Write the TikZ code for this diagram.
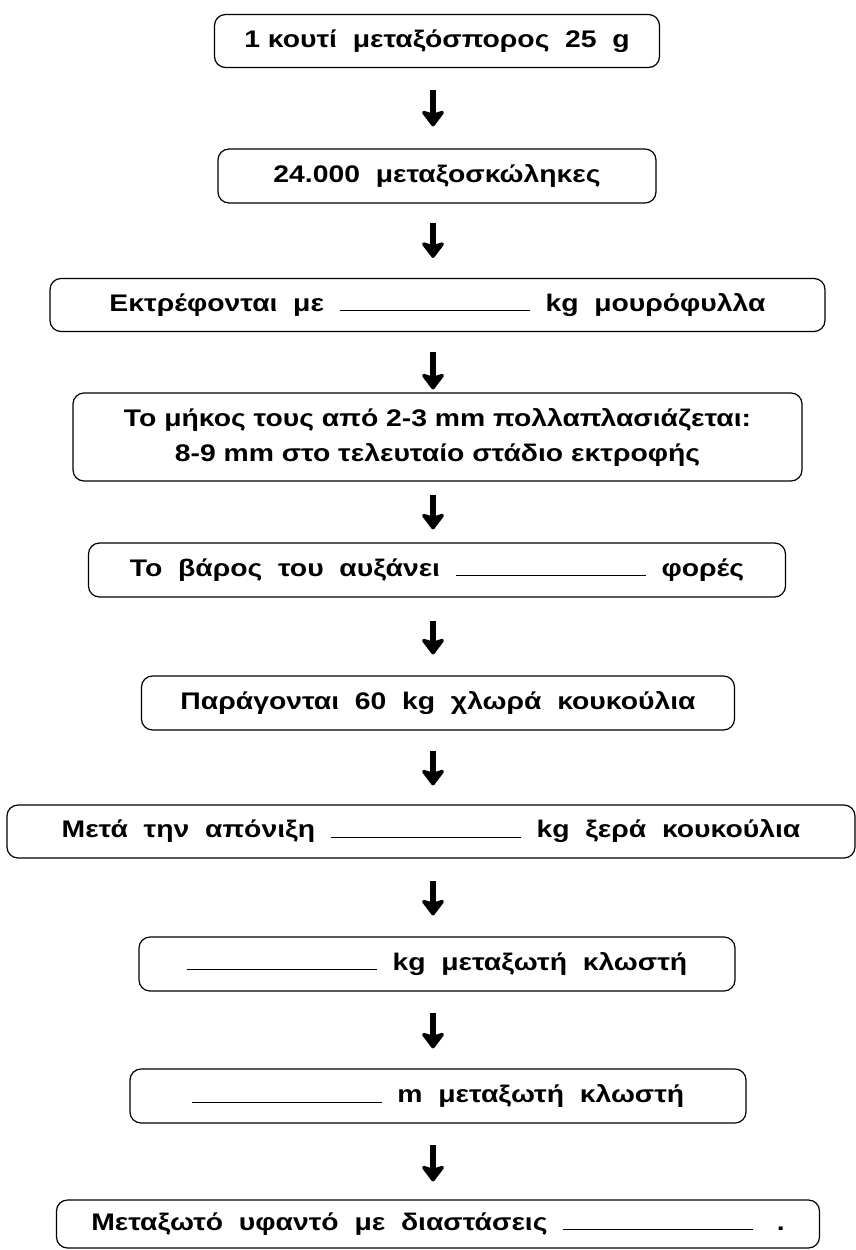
\documentclass[tikz,border=0pt]{standalone}
\usepackage{fontspec}
\setmainfont{Liberation Sans}[FakeStretch=1.18]
\usetikzlibrary{arrows.meta}
\newcommand{\blank}{\rule[0pt]{190pt}{1pt}}
\begin{document}
\begin{tikzpicture}[x=1pt,y=-1pt,
  box/.style={draw=black, line width=1.2pt, rounded corners=11pt, inner sep=0pt,
    align=center, font=\fontsize{24}{35}\selectfont\bfseries},
  flow/.style={line width=6pt, -{Stealth[width=27pt,length=18pt,inset=4pt,round]}}]
\useasboundingbox (0,0) rectangle (856,1250);
\coordinate (ax) at (433,0);
\node[box, minimum width=445pt, minimum height=53pt] (b1) at (437,41) {1 κουτί \ μεταξόσπορος \ 25 \ g};
\node[box, minimum width=438pt, minimum height=54pt] (b2) at (437,176) {24.000 \ μεταξοσκώληκες};
\node[box, minimum width=775pt, minimum height=53pt] (b3) at (437.5,305) {Εκτρέφονται \ με \ \blank\ \ kg \ μουρόφυλλα};
\node[box, minimum width=729pt, minimum height=88pt] (b4) at (437.5,437) {Το μήκος τους από 2-3 mm πολλαπλασιάζεται:\\8-9 mm στο τελευταίο στάδιο εκτροφής};
\node[box, minimum width=697pt, minimum height=54pt] (b5) at (437,570) {Το \ βάρος \ του \ αυξάνει \ \blank\ \ φορές};
\node[box, minimum width=593pt, minimum height=54pt] (b6) at (438,703) {Παράγονται \ 60 \ kg \ χλωρά \ κουκούλια};
\node[box, minimum width=848pt, minimum height=53pt] (b7) at (431,831.5) {Μετά \ την \ απόνιξη \ \blank\ \ kg \ ξερά \ κουκούλια};
\node[box, minimum width=596pt, minimum height=54pt] (b8) at (437,964) {\blank\ \ kg \ μεταξωτή \ κλωστή};
\node[box, minimum width=616pt, minimum height=54pt] (b9) at (438,1096) {\blank\ \ m \ μεταξωτή \ κλωστή};
\node[box, minimum width=763pt, minimum height=48pt] (b10) at (438,1224) {Μεταξωτό \ υφαντό \ με \ διαστάσεις \ \blank\ \ \ .};
\draw[flow, shorten <=22pt, shorten >=22pt] (b1.south -| ax) -- (b2.north -| ax);
\draw[flow, shorten <=19pt, shorten >=20pt] (b2.south -| ax) -- (b3.north -| ax);
\draw[flow, shorten <=20pt, shorten >=3pt] (b3.south -| ax) -- (b4.north -| ax);
\draw[flow, shorten <=13pt, shorten >=13pt] (b4.south -| ax) -- (b5.north -| ax);
\draw[flow, shorten <=23pt, shorten >=21pt] (b5.south -| ax) -- (b6.north -| ax);
\draw[flow, shorten <=20pt, shorten >=19pt] (b6.south -| ax) -- (b7.north -| ax);
\draw[flow, shorten <=22pt, shorten >=21pt] (b7.south -| ax) -- (b8.north -| ax);
\draw[flow, shorten <=21pt, shorten >=20pt] (b8.south -| ax) -- (b9.north -| ax);
\draw[flow, shorten <=21pt, shorten >=18pt] (b9.south -| ax) -- (b10.north -| ax);
\end{tikzpicture}
\end{document}
